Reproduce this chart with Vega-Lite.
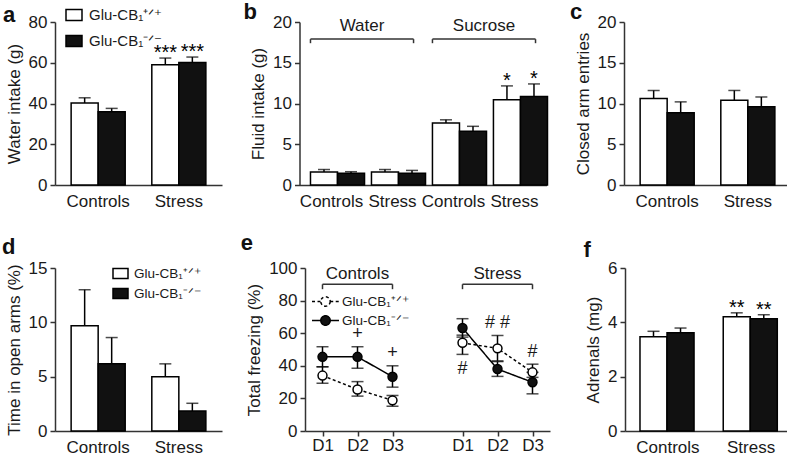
{
  "$schema": "https://vega.github.io/schema/vega-lite/v6.json",
  "background": "white",
  "padding": {"left": 2, "top": 0, "right": 0, "bottom": 0},
  "config": {
    "font": "Liberation Sans",
    "view": {"stroke": null},
    "axis": {"grid": false, "domainColor": "#333", "domainWidth": 1.5, "tickColor": "#333", "tickWidth": 1.5, "tickSize": 5, "labelFontSize": 17, "labelColor": "#1a1a1a", "titleFontSize": 17, "titleFontWeight": "normal", "titleColor": "#1a1a1a", "labelPadding": 3, "titlePadding": 5, "labelOverlap": false},
    "axisX": {"ticks": false, "labelAngle": 0, "labelPadding": 8},
    "title": {"font": "Liberation Sans", "fontSize": 22, "fontWeight": "bold", "anchor": "start", "frame": "bounds", "color": "#111", "baseline": "alphabetic"},
    "legend": {"title": null, "orient": "none", "labelColor": "#1a1a1a"}
  },
  "bounds": "flush",
  "spacing": 246,
  "resolve": {"scale": {"fill": "independent", "strokeDash": "independent"}, "legend": {"fill": "independent", "strokeDash": "independent"}},
  "vconcat": [
    {
      "bounds": "flush",
      "spacing": 77.5,
      "resolve": {"scale": {"fill": "independent", "strokeDash": "independent"}, "legend": {"fill": "independent", "strokeDash": "independent"}},
      "hconcat": [
        {
          "width": 167, "height": 163,
          "title": {"text": "a", "offset": -21, "dx": -2},
          "data": {"values": [
            {"group": "Controls", "geno": "WT", "mean": 40.2, "hi": 42.8, "sig": ""},
            {"group": "Controls", "geno": "KO", "mean": 36, "hi": 37.6, "sig": ""},
            {"group": "Stress", "geno": "WT", "mean": 59, "hi": 62.3, "sig": "***"},
            {"group": "Stress", "geno": "KO", "mean": 60.1, "hi": 62.8, "sig": "***"}
          ]},
          "encoding": {
            "x": {"field": "group", "type": "nominal", "sort": null, "scale": {"paddingInner": 0.33, "paddingOuter": 0.2}, "axis": {"title": null}},
            "xOffset": {"field": "geno", "type": "nominal", "sort": ["WT", "KO"], "scale": {"domain": ["WT", "KO"], "paddingInner": 0, "paddingOuter": 0}}
          },
          "layer": [
            {"mark": {"type": "rule", "color": "black", "strokeWidth": 1.5}, "encoding": {"y": {"field": "mean", "type": "quantitative", "scale": {"domain": [0, 80], "nice": false}, "axis": {"title": "Water intake (g)", "values": [0, 20, 40, 60, 80]}}, "y2": {"field": "hi"}}},
            {"mark": {"type": "tick", "orient": "horizontal", "size": 12, "thickness": 1.5, "color": "black"}, "encoding": {"y": {"field": "hi", "type": "quantitative"}}},
            {"mark": {"type": "bar", "stroke": "black", "strokeWidth": 1.5}, "encoding": {"y": {"field": "mean", "type": "quantitative"}, "fill": {"field": "geno", "type": "nominal", "scale": {"domain": ["WT", "KO"], "range": ["white", "#111"]}, "legend": {"orient": "none", "legendX": 10, "legendY": -16, "symbolType": "M-1,-0.68H1V0.68H-1Z", "symbolSize": 256, "symbolStrokeColor": "black", "symbolStrokeWidth": 1.5, "labelFontSize": 15, "rowPadding": 8, "labelOffset": 6, "labelExpr": "datum.value == 'WT' ? 'Glu-CB₁⁺ᐟ⁺' : 'Glu-CB₁⁻ᐟ⁻'"}}}},
            {"mark": {"type": "text", "font": "Liberation Sans", "fontSize": 20, "baseline": "alphabetic", "dy": 1}, "encoding": {"y": {"field": "hi", "type": "quantitative"}, "text": {"field": "sig"}}}
          ]
        },
        {
          "width": 247, "height": 163,
          "title": {"text": "b", "offset": -10.5, "dx": -6},
          "layer": [
            {
              "data": {"values": [
                {"group": "Water Controls", "geno": "WT", "mean": 1.6, "hi": 1.9, "sig": ""},
                {"group": "Water Controls", "geno": "KO", "mean": 1.43, "hi": 1.63, "sig": ""},
                {"group": "Water Stress", "geno": "WT", "mean": 1.6, "hi": 1.9, "sig": ""},
                {"group": "Water Stress", "geno": "KO", "mean": 1.43, "hi": 1.79, "sig": ""},
                {"group": "Sucrose Controls", "geno": "WT", "mean": 7.6, "hi": 8.0, "sig": ""},
                {"group": "Sucrose Controls", "geno": "KO", "mean": 6.6, "hi": 7.2, "sig": ""},
                {"group": "Sucrose Stress", "geno": "WT", "mean": 10.45, "hi": 12.16, "sig": "*"},
                {"group": "Sucrose Stress", "geno": "KO", "mean": 10.85, "hi": 12.4, "sig": "*"}
              ]},
              "encoding": {
                "x": {"field": "group", "type": "nominal", "sort": null, "scale": {"domain": ["Water Controls", "Water Stress", "Sucrose Controls", "Sucrose Stress"], "paddingInner": 0.31, "paddingOuter": 0.18}, "axis": {"title": null, "labelExpr": "split(datum.label, ' ')[1]"}},
                "xOffset": {"field": "geno", "type": "nominal", "sort": ["WT", "KO"], "scale": {"domain": ["WT", "KO"], "paddingInner": 0, "paddingOuter": 0}}
              },
              "layer": [
                {"mark": {"type": "rule", "color": "black", "strokeWidth": 1.5}, "encoding": {"y": {"field": "mean", "type": "quantitative", "scale": {"domain": [0, 20], "nice": false}, "axis": {"title": "Fluid intake (g)", "values": [0, 5, 10, 15, 20]}}, "y2": {"field": "hi"}}},
                {"mark": {"type": "tick", "orient": "horizontal", "size": 12, "thickness": 1.5, "color": "black"}, "encoding": {"y": {"field": "hi", "type": "quantitative"}}},
                {"mark": {"type": "bar", "stroke": "black", "strokeWidth": 1.5}, "encoding": {"y": {"field": "mean", "type": "quantitative"}, "fill": {"field": "geno", "type": "nominal", "scale": {"domain": ["WT", "KO"], "range": ["white", "#111"]}, "legend": null}}},
                {"mark": {"type": "text", "font": "Liberation Sans", "fontSize": 20, "baseline": "alphabetic", "dy": 1}, "encoding": {"y": {"field": "hi", "type": "quantitative"}, "text": {"field": "sig"}}}
              ]
            },
            {
              "data": {"values": [
                {"label": "Water", "from": "Water Controls", "to": "Water Stress"},
                {"label": "Sucrose", "from": "Sucrose Controls", "to": "Sucrose Stress"}
              ]},
              "layer": [
                {"mark": {"type": "rule", "color": "#333", "strokeWidth": 1.5}, "encoding": {"x": {"field": "from", "type": "nominal", "bandPosition": 0}, "x2": {"field": "to", "bandPosition": 1}, "y": {"datum": 17.9}}},
                {"mark": {"type": "rule", "color": "#333", "strokeWidth": 1.5}, "encoding": {"x": {"field": "from", "type": "nominal", "bandPosition": 0}, "y": {"datum": 17.9}, "y2": {"datum": 17.4}}},
                {"mark": {"type": "rule", "color": "#333", "strokeWidth": 1.5}, "encoding": {"x": {"field": "to", "type": "nominal", "bandPosition": 1}, "y": {"datum": 17.9}, "y2": {"datum": 17.4}}},
                {"mark": {"type": "text", "fontSize": 17, "color": "#1a1a1a"}, "encoding": {"x": {"field": "from", "type": "nominal", "bandPosition": 1.225}, "y": {"datum": 19.5}, "text": {"field": "label"}}}
              ]
            }
          ]
        },
        {
          "width": 167, "height": 163,
          "title": {"text": "c", "offset": -10.5, "dx": -4},
          "data": {"values": [
            {"group": "Controls", "geno": "WT", "mean": 10.6, "hi": 11.6},
            {"group": "Controls", "geno": "KO", "mean": 8.85, "hi": 10.2},
            {"group": "Stress", "geno": "WT", "mean": 10.4, "hi": 11.6},
            {"group": "Stress", "geno": "KO", "mean": 9.6, "hi": 10.8}
          ]},
          "encoding": {
            "x": {"field": "group", "type": "nominal", "sort": null, "scale": {"paddingInner": 0.33, "paddingOuter": 0.2}, "axis": {"title": null}},
            "xOffset": {"field": "geno", "type": "nominal", "sort": ["WT", "KO"], "scale": {"domain": ["WT", "KO"], "paddingInner": 0, "paddingOuter": 0}}
          },
          "layer": [
            {"mark": {"type": "rule", "color": "black", "strokeWidth": 1.5}, "encoding": {"y": {"field": "mean", "type": "quantitative", "scale": {"domain": [0, 20], "nice": false}, "axis": {"title": "Closed arm entries", "values": [0, 5, 10, 15, 20]}}, "y2": {"field": "hi"}}},
            {"mark": {"type": "tick", "orient": "horizontal", "size": 12, "thickness": 1.5, "color": "black"}, "encoding": {"y": {"field": "hi", "type": "quantitative"}}},
            {"mark": {"type": "bar", "stroke": "black", "strokeWidth": 1.5}, "encoding": {"y": {"field": "mean", "type": "quantitative"}, "fill": {"field": "geno", "type": "nominal", "scale": {"domain": ["WT", "KO"], "range": ["white", "#111"]}, "legend": null}}}
          ]
        }
      ]
    },
    {
      "bounds": "flush",
      "spacing": 83,
      "resolve": {"scale": {"fill": "independent", "strokeDash": "independent"}, "legend": {"fill": "independent", "strokeDash": "independent"}},
      "hconcat": [
        {
          "width": 167, "height": 163,
          "title": {"text": "d", "offset": 0.5, "dx": -3},
          "data": {"values": [
            {"group": "Controls", "geno": "WT", "mean": 9.68, "hi": 13.0},
            {"group": "Controls", "geno": "KO", "mean": 6.18, "hi": 8.6},
            {"group": "Stress", "geno": "WT", "mean": 5.0, "hi": 6.18},
            {"group": "Stress", "geno": "KO", "mean": 1.84, "hi": 2.55}
          ]},
          "encoding": {
            "x": {"field": "group", "type": "nominal", "sort": null, "scale": {"paddingInner": 0.33, "paddingOuter": 0.2}, "axis": {"title": null}},
            "xOffset": {"field": "geno", "type": "nominal", "sort": ["WT", "KO"], "scale": {"domain": ["WT", "KO"], "paddingInner": 0, "paddingOuter": 0}}
          },
          "layer": [
            {"mark": {"type": "rule", "color": "black", "strokeWidth": 1.5}, "encoding": {"y": {"field": "mean", "type": "quantitative", "scale": {"domain": [0, 15], "nice": false}, "axis": {"title": "Time in open arms (%)", "values": [0, 5, 10, 15]}}, "y2": {"field": "hi"}}},
            {"mark": {"type": "tick", "orient": "horizontal", "size": 12, "thickness": 1.5, "color": "black"}, "encoding": {"y": {"field": "hi", "type": "quantitative"}}},
            {"mark": {"type": "bar", "stroke": "black", "strokeWidth": 1.5}, "encoding": {"y": {"field": "mean", "type": "quantitative"}, "fill": {"field": "geno", "type": "nominal", "scale": {"domain": ["WT", "KO"], "range": ["white", "#111"]}, "legend": {"orient": "none", "legendX": 57, "legendY": -3, "symbolType": "M-1,-0.66H1V0.66H-1Z", "symbolSize": 225, "symbolStrokeColor": "black", "symbolStrokeWidth": 1.5, "labelFontSize": 13.5, "rowPadding": 3, "labelOffset": 5, "labelExpr": "datum.value == 'WT' ? 'Glu-CB₁⁺ᐟ⁺' : 'Glu-CB₁⁻ᐟ⁻'"}}}}
          ]
        },
        {
          "bounds": "flush",
          "spacing": 75,
          "resolve": {"scale": {"fill": "independent", "strokeDash": "independent"}, "legend": {"fill": "independent", "strokeDash": "independent"}},
          "hconcat": [
            {
              "width": 245, "height": 163,
              "title": {"text": "e", "offset": 4.5, "dx": -5},
              "layer": [
                {
                  "data": {"values": [
                    {"day": "Controls D1", "cond": "Controls", "geno": "WT", "mean": 34, "lo": 29.3, "hi": 39.4, "above": "", "below": ""},
                    {"day": "Controls D2", "cond": "Controls", "geno": "WT", "mean": 25.5, "lo": 21.4, "hi": 30.3, "above": "", "below": ""},
                    {"day": "Controls D3", "cond": "Controls", "geno": "WT", "mean": 18.8, "lo": 15.2, "hi": 21.8, "above": "", "below": ""},
                    {"day": "Controls D1", "cond": "Controls", "geno": "KO", "mean": 45.5, "lo": 39.4, "hi": 51.7, "above": "", "below": ""},
                    {"day": "Controls D2", "cond": "Controls", "geno": "KO", "mean": 45.5, "lo": 38.5, "hi": 51.7, "above": "+", "below": ""},
                    {"day": "Controls D3", "cond": "Controls", "geno": "KO", "mean": 33.3, "lo": 26.9, "hi": 40, "above": "+", "below": ""},
                    {"day": "Stress D1", "cond": "Stress", "geno": "WT", "mean": 54.1, "lo": 47, "hi": 58.8, "above": "", "below": "#"},
                    {"day": "Stress D2", "cond": "Stress", "geno": "WT", "mean": 50.7, "lo": 43, "hi": 58.6, "above": "# #", "below": ""},
                    {"day": "Stress D3", "cond": "Stress", "geno": "WT", "mean": 36, "lo": 32.9, "hi": 41, "above": "#", "below": ""},
                    {"day": "Stress D1", "cond": "Stress", "geno": "KO", "mean": 63.2, "lo": 57.6, "hi": 68.9, "above": "", "below": ""},
                    {"day": "Stress D2", "cond": "Stress", "geno": "KO", "mean": 38, "lo": 33.5, "hi": 42.6, "above": "", "below": ""},
                    {"day": "Stress D3", "cond": "Stress", "geno": "KO", "mean": 29.9, "lo": 22.8, "hi": 36, "above": "", "below": ""}
                  ]},
                  "encoding": {
                    "x": {"field": "day", "type": "ordinal", "scale": {"type": "point", "domain": ["Controls D1", "Controls D2", "Controls D3", "gap", "Stress D1", "Stress D2", "Stress D3"], "padding": 0.5}, "axis": {"title": null, "ticks": true, "values": ["Controls D1", "Controls D2", "Controls D3", "Stress D1", "Stress D2", "Stress D3"], "labelExpr": "split(datum.label, ' ')[1]", "labelPadding": 1}}
                  },
                  "layer": [
                    {"mark": {"type": "line", "color": "black", "strokeWidth": 1.5}, "encoding": {"y": {"field": "mean", "type": "quantitative", "scale": {"domain": [0, 100], "nice": false}, "axis": {"title": "Total freezing (%)", "values": [0, 20, 40, 60, 80, 100], "labelOverlap": false}}, "detail": {"field": "cond"}, "strokeDash": {"field": "geno", "type": "nominal", "scale": {"domain": ["WT", "KO"], "range": [[3, 2.5], [1, 0]]}, "legend": {"orient": "none", "legendX": 13, "legendY": 26, "symbolType": "M-2,0H-0.7M0.7,0H2M0.7,0A0.7,0.7 0 1 1 -0.7,0A0.7,0.7 0 1 1 0.7,0Z", "symbolSize": 182, "symbolStrokeColor": "black", "symbolStrokeWidth": 1.5, "labelFontSize": 13.5, "rowPadding": 2, "labelOffset": 9, "labelExpr": "datum.value == 'WT' ? 'Glu-CB₁⁺ᐟ⁺' : 'Glu-CB₁⁻ᐟ⁻'"}}}},
                    {"mark": {"type": "rule", "color": "black", "strokeWidth": 1.5}, "encoding": {"y": {"field": "lo", "type": "quantitative", "axis": {"title": "Total freezing (%)", "values": [0, 20, 40, 60, 80, 100]}}, "y2": {"field": "hi"}}},
                    {"mark": {"type": "tick", "orient": "horizontal", "size": 12, "thickness": 1.5, "color": "black"}, "encoding": {"y": {"field": "lo", "type": "quantitative", "axis": {"title": "Total freezing (%)", "values": [0, 20, 40, 60, 80, 100]}}}},
                    {"mark": {"type": "tick", "orient": "horizontal", "size": 12, "thickness": 1.5, "color": "black"}, "encoding": {"y": {"field": "hi", "type": "quantitative", "axis": {"title": "Total freezing (%)", "values": [0, 20, 40, 60, 80, 100]}}}},
                    {"mark": {"type": "point", "shape": "circle", "size": 80, "filled": true, "stroke": "black", "strokeWidth": 1.5, "opacity": 1}, "encoding": {"y": {"field": "mean", "type": "quantitative", "axis": {"title": "Total freezing (%)", "values": [0, 20, 40, 60, 80, 100]}}, "fill": {"field": "geno", "type": "nominal", "scale": {"domain": ["WT", "KO"], "range": ["white", "#111"]}, "legend": {"orient": "none", "legendX": 13, "legendY": 26, "symbolType": "M-2,0H-0.7M0.7,0H2M0.7,0A0.7,0.7 0 1 1 -0.7,0A0.7,0.7 0 1 1 0.7,0Z", "symbolSize": 182, "symbolStrokeColor": "black", "symbolStrokeWidth": 1.5, "labelFontSize": 13.5, "rowPadding": 2, "labelOffset": 9, "labelExpr": "datum.value == 'WT' ? 'Glu-CB₁⁺ᐟ⁺' : 'Glu-CB₁⁻ᐟ⁻'"}}}},
                    {"mark": {"type": "text", "fontSize": 18, "dy": -12.5, "color": "#1a1a1a"}, "encoding": {"y": {"field": "hi", "type": "quantitative", "axis": {"title": "Total freezing (%)", "values": [0, 20, 40, 60, 80, 100]}}, "text": {"field": "above"}}},
                    {"mark": {"type": "text", "fontSize": 18, "dy": 14.5, "color": "#1a1a1a"}, "encoding": {"y": {"field": "lo", "type": "quantitative", "axis": {"title": "Total freezing (%)", "values": [0, 20, 40, 60, 80, 100]}}, "text": {"field": "below"}}}
                  ]
                },
                {
                  "data": {"values": [
                    {"label": "Controls", "from": "Controls D1", "mid": "Controls D2", "to": "Controls D3"},
                    {"label": "Stress", "from": "Stress D1", "mid": "Stress D2", "to": "Stress D3"}
                  ]},
                  "layer": [
                    {"mark": {"type": "rule", "color": "#333", "strokeWidth": 1.5}, "encoding": {"x": {"field": "from", "type": "ordinal"}, "x2": {"field": "to"}, "y": {"datum": 90, "type": "quantitative", "axis": {"title": "Total freezing (%)", "values": [0, 20, 40, 60, 80, 100]}}}},
                    {"mark": {"type": "rule", "color": "#333", "strokeWidth": 1.5}, "encoding": {"x": {"field": "from", "type": "ordinal"}, "y": {"datum": 90, "type": "quantitative", "axis": {"title": "Total freezing (%)", "values": [0, 20, 40, 60, 80, 100]}}, "y2": {"datum": 87}}},
                    {"mark": {"type": "rule", "color": "#333", "strokeWidth": 1.5}, "encoding": {"x": {"field": "to", "type": "ordinal"}, "y": {"datum": 90, "type": "quantitative", "axis": {"title": "Total freezing (%)", "values": [0, 20, 40, 60, 80, 100]}}, "y2": {"datum": 87}}},
                    {"mark": {"type": "text", "fontSize": 17, "color": "#1a1a1a"}, "encoding": {"x": {"field": "mid", "type": "ordinal"}, "y": {"datum": 96.4, "type": "quantitative", "axis": {"title": "Total freezing (%)", "values": [0, 20, 40, 60, 80, 100]}}, "text": {"field": "label"}}}
                  ]
                }
              ]
            },
            {
              "width": 169, "height": 163,
              "title": {"text": "f", "offset": -2.5, "dx": -1},
              "data": {"values": [
                {"group": "Controls", "geno": "WT", "mean": 3.47, "hi": 3.67, "sig": ""},
                {"group": "Controls", "geno": "KO", "mean": 3.62, "hi": 3.79, "sig": ""},
                {"group": "Stress", "geno": "WT", "mean": 4.21, "hi": 4.35, "sig": "**"},
                {"group": "Stress", "geno": "KO", "mean": 4.13, "hi": 4.28, "sig": "**"}
              ]},
              "encoding": {
                "x": {"field": "group", "type": "nominal", "sort": null, "scale": {"paddingInner": 0.33, "paddingOuter": 0.18}, "axis": {"title": null}},
                "xOffset": {"field": "geno", "type": "nominal", "sort": ["WT", "KO"], "scale": {"domain": ["WT", "KO"], "paddingInner": 0, "paddingOuter": 0}}
              },
              "layer": [
                {"mark": {"type": "rule", "color": "black", "strokeWidth": 1.5}, "encoding": {"y": {"field": "mean", "type": "quantitative", "scale": {"domain": [0, 6], "nice": false}, "axis": {"title": "Adrenals (mg)", "values": [0, 2, 4, 6]}}, "y2": {"field": "hi"}}},
                {"mark": {"type": "tick", "orient": "horizontal", "size": 12, "thickness": 1.5, "color": "black"}, "encoding": {"y": {"field": "hi", "type": "quantitative"}}},
                {"mark": {"type": "bar", "stroke": "black", "strokeWidth": 1.5}, "encoding": {"y": {"field": "mean", "type": "quantitative"}, "fill": {"field": "geno", "type": "nominal", "scale": {"domain": ["WT", "KO"], "range": ["white", "#111"]}, "legend": null}}},
                {"mark": {"type": "text", "font": "Liberation Sans", "fontSize": 20, "baseline": "alphabetic", "dy": 1}, "encoding": {"y": {"field": "hi", "type": "quantitative"}, "text": {"field": "sig"}}}
              ]
            }
          ]
        }
      ]
    }
  ]
}
